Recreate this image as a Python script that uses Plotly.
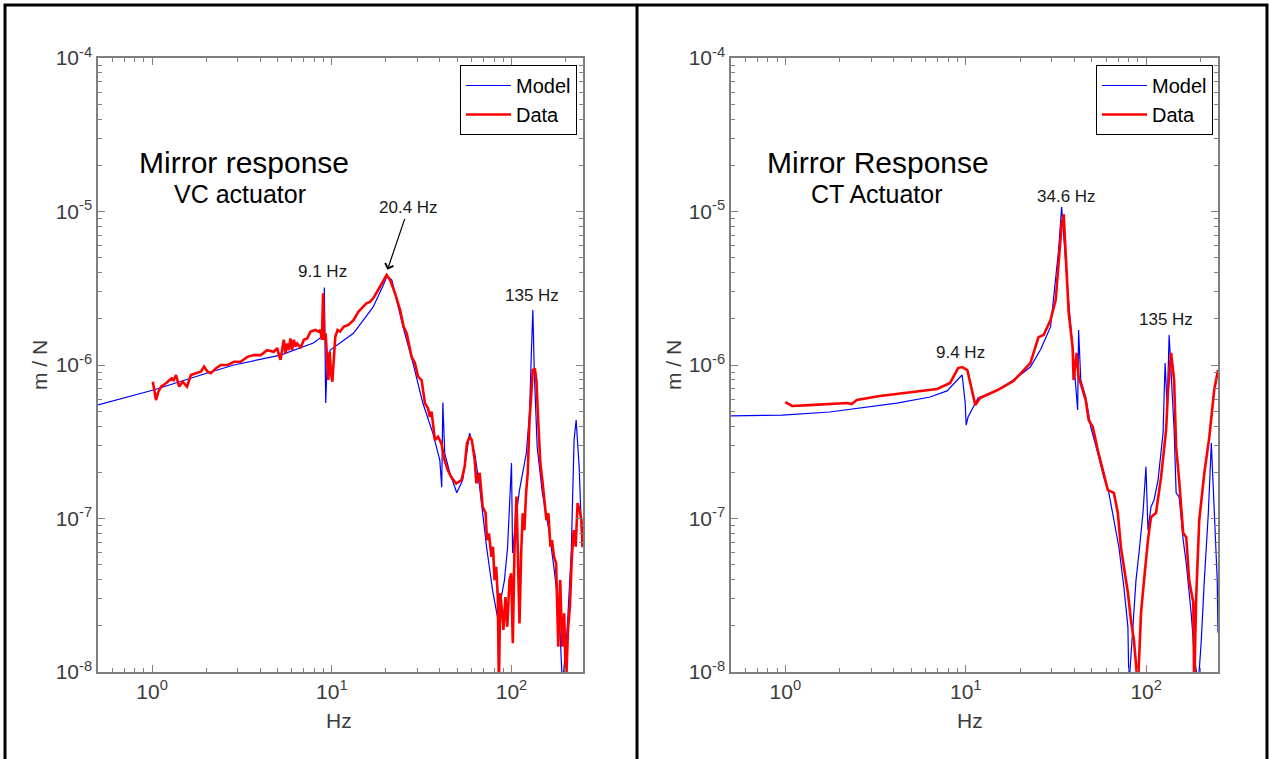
import math
import plotly.graph_objects as go

# ---------------- data ----------------
vc_model_hz = [0.5, 1.03, 1.87, 2.85, 5.18, 7.9, 8.63, 9.0, 9.09, 9.25, 9.44, 9.8, 13.2, 17.0, 19.3, 20.3, 21.6,
               24.9, 28.3, 32.1, 36.5, 39.9, 40.9, 41.5, 42.5, 45.4, 49.6, 53.5, 58.5, 62.4, 66.5, 72.7, 78.5,
               83.6, 91.4, 95.1, 100, 101.4, 106.7, 110.8, 121, 126, 129, 131.5, 134, 139, 148.5, 162.5, 173,
               184.5, 192, 204, 215, 223, 229, 238, 247]
vc_model_mn = [5.5e-7, 6.9e-7, 8.6e-7, 1.0e-6, 1.16e-6, 1.39e-6, 1.5e-6, 1.69e-6, 3.2e-6, 5.65e-7, 1.08e-6,
               1.25e-6, 1.61e-6, 2.39e-6, 3.3e-6, 3.8e-6, 3.58e-6, 1.77e-6, 1.03e-6, 5.65e-7, 3.6e-7, 2.4e-7,
               1.6e-7, 5.7e-7, 2.67e-7, 1.98e-7, 1.47e-7, 1.78e-7, 3.6e-7, 2.67e-7, 1.6e-7, 6.5e-8, 3.4e-8,
               2.28e-8, 3.97e-8, 6.5e-8, 2.3e-7, 5.96e-8, 1.09e-7, 1.53e-7, 2.67e-7, 4.86e-7, 1.2e-6, 2.28e-6,
               8.9e-7, 2.92e-7, 1.47e-7, 8.05e-8, 4.6e-8, 2.42e-8, 8e-9, 1.88e-8, 5.96e-8, 3.24e-7, 4.38e-7,
               2.17e-7, 6.5e-8]

vc_data_hz = [1.009, 1.022, 1.052, 1.084, 1.122, 1.195, 1.286, 1.319, 1.358, 1.416, 1.479, 1.563, 1.644,
              1.753, 1.867, 1.948, 2.035, 2.123, 2.263, 2.41, 2.63, 2.86, 3.11, 3.39, 3.69, 4.02, 4.37, 4.76,
              4.97, 5.08, 5.18, 5.41, 5.52, 5.64, 5.76, 5.89, 6.02, 6.15, 6.28, 6.42, 6.70, 6.99, 7.30, 7.62,
              8.10, 8.45, 8.63, 8.81, 8.94, 9.09, 9.24, 9.40, 9.57, 9.73, 9.90, 10.07, 10.25, 10.46, 10.77,
              11.12, 11.67, 12.33, 13.2, 14.05, 14.96, 15.6, 16.3, 17.0, 18.1, 19.35, 20.2,
              21.1, 22.5, 24.0, 25.1, 26.1, 27.8, 29.0, 30.2, 31.6, 33.0, 34.3, 35.1, 35.9, 37.5, 39.0, 40.7,
              42.4, 44.2, 46.1, 49.2, 52.7, 54.9, 56.5, 58.5, 60.2, 62.4, 63.8, 65.0, 66.5,
              67.8, 69.1, 71.7, 73.1, 74.9, 77.3, 78.9, 80.5, 82.2, 83.9, 85.1, 86.6, 88.8, 90.2, 92.6, 94.7,
              97.5, 99.6, 101.7, 104, 106.6, 108.7, 110.8, 113.2, 115.5, 118, 120.5, 123.1, 126, 128.6, 131.3,
              134.8, 137.6, 140.8, 144.7, 148.5, 152.5, 156.4, 160.5, 164.7, 168.1, 172.4, 177.1, 182.1, 186.6,
              191.6, 196.4, 201.2, 206.2, 211.4, 216.7, 222, 227.6, 233.3, 239, 245, 249]
vc_data_mn = [7.78e-7, 7.23e-7, 5.91e-7, 6.7e-7, 7.23e-7, 7.6e-7, 8.19e-7, 7.98e-7, 8.6e-7, 7.23e-7, 7.78e-7,
              7.23e-7, 8.6e-7, 8.83e-7, 9.04e-7, 9.75e-7, 9.04e-7, 8.83e-7, 9.5e-7, 1.0e-6, 1.0e-6, 1.05e-6,
              1.05e-6, 1.13e-6, 1.16e-6, 1.16e-6, 1.25e-6, 1.22e-6, 1.29e-6, 1.16e-6, 1.08e-6, 1.46e-6, 1.19e-6,
              1.38e-6, 1.25e-6, 1.49e-6, 1.25e-6, 1.46e-6, 1.32e-6, 1.38e-6, 1.29e-6, 1.46e-6, 1.49e-6, 1.65e-6,
              1.69e-6, 1.65e-6, 1.69e-6, 1.46e-6, 2.93e-6, 1.46e-6, 1.61e-6, 1.13e-6, 7.98e-7, 1.22e-6, 8.83e-7,
              7.78e-7, 1.13e-6, 1.53e-6, 1.69e-6, 1.65e-6, 1.78e-6, 1.82e-6, 1.96e-6, 2.22e-6, 2.4e-6, 2.52e-6,
              2.58e-6, 2.72e-6, 3.08e-6, 3.49e-6, 3.86e-6,
              3.58e-6, 2.93e-6, 2.28e-6, 1.78e-6, 1.61e-6, 1.13e-6, 1.03e-6, 8.4e-7, 7.98e-7, 5.62e-7, 5.22e-7,
              4.6e-7, 4.97e-7, 3.24e-7, 3.41e-7, 3.09e-7, 2.4e-7, 2.07e-7, 1.87e-7, 1.69e-7, 1.78e-7, 2.18e-7,
              3.09e-7, 3.41e-7, 3.24e-7, 2.4e-7, 1.69e-7, 1.87e-7, 1.98e-7,
              1.61e-7, 1.19e-7, 1.09e-7, 7.24e-8, 8.0e-8, 5.63e-8, 6.55e-8, 3.97e-8, 4.85e-8, 3.08e-8, 8e-9,
              3.26e-8, 2.41e-8, 1.88e-8, 3.08e-8, 1.97e-8, 3.97e-8, 4.4e-8, 1.54e-8, 6.55e-8, 1.39e-7, 3.97e-8,
              2.07e-8, 5.93e-8, 1.08e-7, 8.4e-8, 1.46e-7, 1.97e-7, 4.38e-7, 6.2e-7, 9.27e-7, 9.5e-7, 7.98e-7,
              4.38e-7, 2.29e-7, 1.78e-7, 1.32e-7, 9.77e-8, 1.08e-7, 6.55e-8, 7.24e-8, 5.63e-8, 5.13e-8, 1.46e-8,
              3.97e-8, 1.46e-8, 2.41e-8, 8e-9, 1.88e-8, 2.66e-8, 5.63e-8, 8.4e-8, 6.55e-8, 1.26e-7, 1.14e-7,
              9.77e-8, 6.55e-8]

ct_model_hz = [0.5, 0.96, 1.76, 2.68, 4.15, 6.34, 7.88, 9.31, 9.55, 9.93, 10.05, 10.3, 11.0, 11.7, 15.0, 18.4,
               22.8, 26.0, 29.5, 31.5, 32.7, 34.0, 35.3, 36.7, 39.1, 40.6, 41.7, 42.2, 43.4, 46.2, 49.3, 53.9,
               58.2, 62.1, 66.2, 70.6, 75.2, 79.2, 80.2, 84.5, 87.8, 91.2, 96, 99.7, 102.3, 106.3, 110.5, 116.3,
               124, 127.3, 130.7, 134, 137.4, 142.8, 146.5, 152.3, 160.3, 166.7, 177.5, 184.5, 194, 202, 210,
               221, 229.6, 238, 247.6, 250]
ct_model_mn = [4.66e-7, 4.72e-7, 4.94e-7, 5.25e-7, 5.65e-7, 6.19e-7, 6.78e-7, 8.35e-7, 8.6e-7, 5.65e-7,
               4.06e-7, 4.58e-7, 5.32e-7, 6.1e-7, 6.87e-7, 7.98e-7, 9.7e-7, 1.26e-6, 1.77e-6, 3.58e-6, 5.6e-6,
               1.07e-5, 5.6e-6, 3.08e-6, 1.31e-6, 7.98e-7, 5.09e-7, 1.69e-6, 7.98e-7, 6.19e-7, 3.94e-7,
               2.67e-7, 1.86e-7, 1.47e-7, 9.77e-8, 6.5e-8, 3.58e-8, 1.96e-8, 8e-9, 2.18e-8, 3.97e-8, 5.96e-8,
               1.09e-7, 2.17e-7, 8.4e-8, 1.19e-7, 1.32e-7, 1.78e-7, 3.6e-7, 1.03e-6, 5.32e-7, 1.57e-6, 8.35e-7,
               3.77e-7, 1.47e-7, 1.38e-7, 7.24e-8, 5.13e-8, 2.42e-8, 1.33e-8, 8e-9, 1.61e-8, 3.97e-8, 1.09e-7,
               3.1e-7, 1.09e-7, 3.97e-8, 1.8e-8]

ct_data_hz = [1.0, 1.09, 1.36, 1.76, 2.21, 2.33, 2.49, 3.34, 5.1, 6.94, 8.19, 9.07, 9.55, 10.2, 11.3, 12.0,
              15.0, 18.4, 22.8, 25.3, 27.0, 29.5, 31.5, 32.7, 34.0, 34.9, 35.8, 37.2, 39.1, 39.6, 41.2, 42.2,
              44.5, 46.2, 48.0, 50.6, 53.9, 57.4, 61.3, 66.2, 69.6, 72.4, 75.2, 79.2, 82.3, 85.5, 90, 93.6, 97.3,
              102.3, 106.3, 113.4, 120.9, 128.9, 132.2, 137.4, 142.8, 146.5, 152.3, 160.3, 166.7, 173, 182.4,
              184.5, 189.3, 196.8, 210, 223.8, 238.2, 250]
ct_data_mn = [5.74e-7, 5.41e-7, 5.48e-7, 5.57e-7, 5.65e-7, 5.57e-7, 5.91e-7, 6.28e-7, 6.67e-7, 6.98e-7,
              7.64e-7, 9.55e-7, 9.7e-7, 9.27e-7, 5.48e-7, 6.1e-7, 6.87e-7, 7.87e-7, 1.03e-6, 1.52e-6, 1.57e-6,
              1.96e-6, 2.65e-6, 4.83e-6, 8.2e-6, 9.6e-6, 5.6e-6, 2.18e-6, 1.31e-6, 7.98e-7, 1.2e-6, 8.35e-7,
              6.87e-7, 5.91e-7, 4.38e-7, 3.94e-7, 2.79e-7, 2.07e-7, 1.53e-7, 1.47e-7, 1.09e-7, 6.5e-8, 4.83e-8,
              3.27e-8, 2.18e-8, 1.61e-8, 8e-9, 2.42e-8, 3.97e-8, 7.24e-8, 1.02e-7, 1.09e-7, 1.86e-7, 3.77e-7,
              6.87e-7, 1.2e-6, 7.98e-7, 2.92e-7, 1.78e-7, 8.05e-8, 7.56e-8, 3.97e-8, 2.82e-8, 8e-9, 3.08e-8,
              9.77e-8, 1.98e-7, 3.4e-7, 6.87e-7, 9.27e-7]

x_major = [1, 10, 100]
x_major_text = ["10<sup>0</sup>", "10<sup>1</sup>", "10<sup>2</sup>"]
x_minor = [0.6, 0.7, 0.8, 0.9, 2, 3, 4, 5, 6, 7, 8, 9, 20, 30, 40, 50, 60, 70, 80, 90, 200]
y_major = [1e-8, 1e-7, 1e-6, 1e-5, 1e-4]
y_major_text = ["10<sup>-8</sup>", "10<sup>-7</sup>", "10<sup>-6</sup>", "10<sup>-5</sup>", "10<sup>-4</sup>"]
y_minor = [m * 10.0 ** e for e in range(-8, -4) for m in range(2, 10)]

# ---------------- figure ----------------
W, H = 1270, 759
FONT = "Liberation Sans, Arial, sans-serif"
AX = "#7f7f7f"
TXT = "#3c3c3c"

def px(x):
    return x / W

def py(y):
    return 1 - y / H

fig = go.Figure()
fig.add_trace(go.Scatter(x=vc_model_hz, y=vc_model_mn, mode="lines", name="Model",
                         line=dict(color="#0000ff", width=1.2), xaxis="x", yaxis="y", legend="legend"))
fig.add_trace(go.Scatter(x=vc_data_hz, y=vc_data_mn, mode="lines", name="Data",
                         line=dict(color="#ff0000", width=2.6), xaxis="x", yaxis="y", legend="legend"))
fig.add_trace(go.Scatter(x=ct_model_hz, y=ct_model_mn, mode="lines", name="Model",
                         line=dict(color="#0000ff", width=1.2), xaxis="x2", yaxis="y2", legend="legend2"))
fig.add_trace(go.Scatter(x=ct_data_hz, y=ct_data_mn, mode="lines", name="Data",
                         line=dict(color="#ff0000", width=2.6), xaxis="x2", yaxis="y2", legend="legend2"))

def xaxis(domain, anchor):
    return dict(type="log", range=[math.log10(0.5), math.log10(250)], domain=domain, anchor=anchor,
                automargin=False,
                showline=True, linecolor=AX, linewidth=1.5, mirror="ticks",
                ticks="inside", ticklen=7, tickwidth=1, tickcolor=AX,
                tickmode="array", tickvals=x_major, ticktext=x_major_text,
                minor=dict(ticks="inside", ticklen=4, tickwidth=1, tickcolor=AX, tickvals=x_minor, showgrid=False),
                showgrid=False, zeroline=False,
                tickfont=dict(family=FONT, size=21, color=TXT))

def yaxis(domain, anchor):
    return dict(type="log", range=[-8, -4], domain=domain, anchor=anchor,
                automargin=False,
                showline=True, linecolor=AX, linewidth=1.5, mirror="ticks",
                ticks="inside", ticklen=7, tickwidth=1, tickcolor=AX,
                tickmode="array", tickvals=y_major, ticktext=y_major_text,
                minor=dict(ticks="inside", ticklen=4, tickwidth=1, tickcolor=AX, tickvals=y_minor, showgrid=False),
                showgrid=False, zeroline=False,
                tickfont=dict(family=FONT, size=21, color=TXT))

ydom = [py(672), py(58)]
legend_common = dict(yanchor="top", xanchor="right", bgcolor="white", bordercolor="black", borderwidth=1,
                     font=dict(family=FONT, size=20, color="black"), tracegroupgap=0, itemwidth=45)
fig.update_layout(
    width=W, height=H, autosize=False,
    margin=dict(l=0, r=0, t=0, b=0, pad=0, autoexpand=False),
    paper_bgcolor="white", plot_bgcolor="white",
    font=dict(family=FONT, color=TXT),
    xaxis=xaxis([px(98), px(583)], "y"),
    yaxis=yaxis(ydom, "x"),
    xaxis2=xaxis([px(731), px(1218)], "y2"),
    yaxis2=yaxis(ydom, "x2"),
    legend=dict(x=px(577), y=py(65), **legend_common),
    legend2=dict(x=px(1213), y=py(65), **legend_common),
)

def label(x, y, text, size, color="#1a1a1a", angle=0):
    fig.add_annotation(x=px(x), y=py(y), xref="paper", yref="paper", text=text, showarrow=False,
                       textangle=angle, font=dict(family=FONT, size=size, color=color),
                       xanchor="center", yanchor="middle")

# titles inside the panels
label(244, 163, "Mirror response", 30, "black")
label(240, 194, "VC actuator", 25, "black")
label(878, 162, "Mirror Response", 30, "black")
label(877, 194, "CT Actuator", 25, "black")
# peak labels
label(322, 271, "9.1 Hz", 17)
label(532, 295, "135 Hz", 17)
label(960, 352, "9.4 Hz", 17)
label(1066, 196, "34.6 Hz", 17)
label(1166, 320, "135 Hz", 17)
fig.add_annotation(x=math.log10(20.4), y=-5.38, xref="x", yref="y", text="20.4 Hz",
                   showarrow=True, ax=21, ay=-62, arrowhead=4, arrowsize=1.4, arrowwidth=1.2,
                   arrowcolor="black", font=dict(family=FONT, size=17, color="#1a1a1a"))
# axis titles
label(339, 720, "Hz", 21, TXT)
label(970, 720, "Hz", 21, TXT)
label(39, 365, "m / N", 21, TXT, -90)
label(673, 365, "m / N", 21, TXT, -90)

# outer frame (table border) and middle divider
fig.add_shape(type="rect", xref="paper", yref="paper", x0=px(5), x1=px(1267), y0=-0.05, y1=py(5),
              line=dict(color="black", width=3))
fig.add_shape(type="line", xref="paper", yref="paper", x0=px(637), x1=px(637), y0=-0.05, y1=py(5),
              line=dict(color="black", width=3))

fig.write_html("out.html")
